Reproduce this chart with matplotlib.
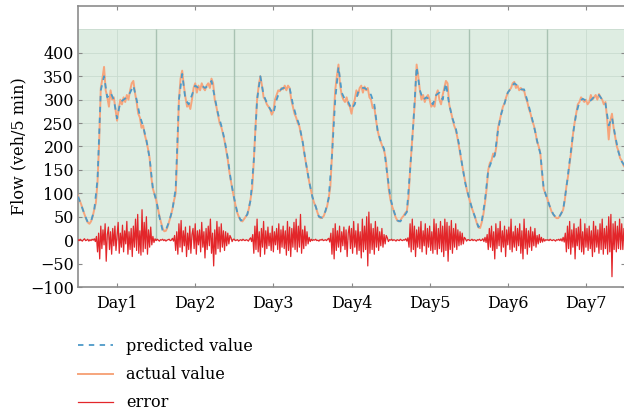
import numpy as np
import matplotlib
matplotlib.use('Agg')
import matplotlib.pyplot as plt

# --- Data ---
day_labels = ['Day1', 'Day2', 'Day3', 'Day4', 'Day5', 'Day6', 'Day7']

# predicted flow, hourly (veh/5 min)
pred_day1 = [93, 75, 55, 38, 40, 65, 130, 320, 350, 305, 315, 300, 260, 295, 300, 305, 315, 330, 300, 265, 243, 214, 175, 110]
pred_day2 = [86, 50, 20, 22, 40, 65, 110, 300, 355, 300, 290, 310, 330, 325, 330, 325, 330, 340, 305, 270, 245, 215, 175, 125]
pred_day3 = [88, 57, 42, 45, 55, 85, 170, 300, 350, 310, 293, 280, 270, 300, 320, 325, 325, 325, 290, 265, 245, 210, 165, 125]
pred_day4 = [92, 72, 50, 48, 62, 90, 180, 300, 370, 315, 300, 295, 280, 290, 315, 325, 325, 320, 310, 290, 235, 210, 195, 140]
pred_day5 = [88, 62, 42, 40, 50, 60, 150, 250, 370, 320, 300, 305, 300, 290, 310, 315, 300, 335, 290, 260, 240, 205, 160, 120]
pred_day6 = [93, 68, 48, 28, 40, 85, 150, 168, 182, 235, 270, 292, 315, 325, 335, 330, 322, 322, 298, 272, 245, 212, 185, 112]
pred_day7 = [90, 70, 55, 47, 52, 65, 112, 168, 225, 270, 295, 302, 298, 295, 302, 310, 310, 300, 292, 245, 262, 222, 188, 168]
pred_end = [158]

# actual flow, every 30 min
act_day1 = [95, 85, 76, 65, 55, 45, 38, 35, 40, 50, 66, 80, 125, 210, 325, 345, 370, 320, 305, 285,
            320, 300, 305, 280, 255, 280, 300, 290, 305, 295, 310, 300, 320, 335, 340, 315, 295, 270, 262, 240,
            245, 225, 212, 195, 175, 135, 110, 98]
act_day2 = [86, 70, 52, 38, 25, 19, 20, 28, 40, 52, 66, 85, 100, 190, 300, 345, 362, 330, 305, 285,
            290, 280, 300, 325, 335, 315, 330, 320, 335, 325, 320, 330, 335, 325, 345, 335, 300, 285, 268, 250,
            242, 228, 212, 192, 172, 145, 125, 105]
act_day3 = [88, 70, 57, 48, 42, 40, 45, 50, 55, 68, 88, 110, 170, 240, 300, 330, 350, 330, 305, 300,
            290, 285, 280, 268, 275, 300, 310, 320, 318, 325, 322, 330, 320, 330, 325, 300, 285, 270, 262, 250,
            243, 225, 210, 185, 165, 145, 125, 108]
act_day4 = [92, 80, 72, 60, 50, 47, 48, 52, 62, 72, 90, 115, 180, 260, 320, 350, 375, 330, 310, 300,
            295, 305, 290, 285, 270, 290, 300, 320, 310, 325, 330, 315, 328, 320, 325, 305, 300, 282, 285, 258,
            235, 220, 210, 200, 192, 175, 140, 105]
act_day5 = [85, 72, 62, 50, 43, 40, 42, 48, 52, 58, 62, 90, 150, 200, 250, 300, 375, 350, 320, 300,
            310, 295, 305, 310, 300, 285, 290, 285, 310, 320, 300, 290, 310, 325, 340, 335, 290, 275, 260, 245,
            236, 220, 200, 180, 160, 140, 122, 105]
act_day6 = [93, 80, 68, 58, 48, 36, 27, 26, 38, 55, 80, 110, 150, 165, 170, 185, 180, 200, 240, 255,
            270, 285, 292, 305, 315, 320, 325, 335, 338, 325, 330, 320, 325, 320, 320, 305, 295, 280, 270, 255,
            245, 230, 210, 200, 185, 145, 110, 100]
act_day7 = [92, 80, 70, 60, 55, 50, 47, 47, 52, 58, 65, 85, 115, 136, 165, 190, 225, 250, 270, 290,
            295, 305, 300, 295, 300, 290, 295, 310, 300, 305, 310, 300, 312, 305, 300, 290, 295, 260, 215, 255,
            270, 240, 220, 200, 190, 175, 170, 160]
act_end = [155]

# error, every 20 min
err_day1 = [1, -1, 2, 0, -2, 1, 3, -1, 0, 2, -2, 1, -1, 2, 0, 3, -3,
            8, -25, 15, -40, 30, -18, 22, -10, 35, -45, 12, 28, -20, 18, -30, 25, -12, 30, -22, 10,
            38, -28, 15, -15, 32, -25, 20, -8, 40, -30, 18, -20, 25, -35, 30, -15, 45, -22, 55, -28,
            20, -32, 65, -25, 38, -18, 50, -30, 22, -15, 28, -10, 8, -5, 3]
err_day2 = [-1, 2, 0, -2, 1, 0, 2, -1, 1, -2, 0, 1, 2, -1, 0, 4, -2,
            10, -22, 18, -30, 35, -15, 42, -25, 20, -12, 28, -35, 15, -20, 30, -28, 12, 25, -18, 35,
            -30, 20, -10, 22, -25, 38, -15, 18, -38, 25, -20, 30, -12, 45, -28, 15, -55, 22, -30, 40,
            -18, 28, -25, 35, -15, 20, -22, 18, -12, 15, -8, 10, 5, -3, 2]
err_day3 = [2, -1, 0, 1, -2, 0, 1, -1, 2, 0, -1, 1, 0, -2, 2, 5, -3,
            12, -28, 30, -20, 45, -25, 18, -35, 25, -15, 40, -30, 20, -18, 28, -12, 15, -22, 30, -25,
            18, -10, 25, -20, 35, -28, 22, -15, 30, -18, 20, -32, 40, -22, 28, -35, 25, -15, 38, -20,
            45, -25, 30, -15, 55, -28, 22, -18, 30, -12, 18, -8, 6, -3, 2]
err_day4 = [-1, 1, 0, 2, -1, 0, -2, 1, 0, 2, -1, 0, 1, -1, 2, 4, -4,
            15, -30, 25, -40, 35, -22, 20, -15, 30, -25, 18, -12, 28, -20, 22, -35, 15, 30, -18, 25,
            -28, 40, -15, 20, -30, 35, -22, 18, -38, 45, -25, 30, -20, 50, -55, 60, -28, 35, -20, 25,
            -30, 40, -15, 28, -22, 18, -12, 25, -15, 12, -8, 10, 5, -3, 1]
err_day5 = [0, 2, -1, 1, 0, -2, 1, 0, -1, 2, 0, -1, 1, 0, 3, -2, 5,
            -15, 35, -25, 45, -20, 30, -35, 22, -15, 28, -18, 40, -25, 20, -12, 35, -30, 25, -15, 30,
            -22, 18, -28, 45, -20, 35, -30, 25, -18, 40, -25, 30, -35, 45, -22, 38, -45, 30, -20, 42,
            -28, 25, -15, 35, -20, 22, -12, 18, -10, 15, -8, 6, 3, -2, 1]
err_day6 = [1, -1, 0, 2, -1, 1, 0, -2, 1, 0, 2, -1, 0, 3, -3, 6, -5,
            12, -20, 25, -15, 30, -22, 18, -40, 35, -18, 25, -12, 40, -25, 20, -15, 30, -35, 22, -10,
            28, -20, 45, -25, 18, -15, 30, -22, 25, -12, 35, -28, 20, -40, 45, -18, 25, -30, 20, -15,
            28, -22, 18, -12, 25, -15, 10, -8, 12, -5, 6, -4, 3, -2, 1]
err_day7 = [0, 1, -1, 2, 0, -1, 1, 0, -2, 1, 0, 2, -1, 3, -2, 6, -4,
            15, -25, 30, -18, 40, -30, 22, -15, 35, -40, 25, -12, 28, -20, 45, -25, 18, -30, 35, -15,
            25, -22, 30, -18, 20, -35, 40, -25, 30, -15, 22, -28, 35, -20, 45, -30, 25, -18, 30, -30,
            50, -25, 55, -78, 35, -20, 40, -25, 30, -18, 45, -20, 35, -20, 25]
err_end = [10]

predicted = np.array(pred_day1 + pred_day2 + pred_day3 + pred_day4 + pred_day5 + pred_day6 + pred_day7 + pred_end)
actual = np.array(act_day1 + act_day2 + act_day3 + act_day4 + act_day5 + act_day6 + act_day7 + act_end)
error = np.array(err_day1 + err_day2 + err_day3 + err_day4 + err_day5 + err_day6 + err_day7 + err_end)

# time axis in days
t_pred = np.arange(len(predicted)) / 24
t_act = np.arange(len(actual)) / 48
t_err = np.arange(len(error)) / 72

# --- Plot ---
plt.rcParams['font.family'] = ['DejaVu Serif']
plt.rcParams['font.size'] = 11.5

fig = plt.figure(figsize=(6.24, 4.15), dpi=100)
ax = fig.add_axes([78 / 624, 1 - 287 / 415, 547 / 624, 281 / 415])

green = '#deede2'
ax.axhspan(0, 450, color=green, zorder=0, lw=0)
ax.vlines(np.arange(7) + 0.5, 0, 450, color='#c9dccf', lw=0.6, zorder=1)
ax.hlines(np.arange(50, 451, 50), 0, 7, color='#c9dccf', lw=0.6, zorder=1)
ax.vlines(np.arange(1, 7), 0, 450, color='#a8c2b2', lw=1.0, zorder=1)

ax.plot(t_err, error, color='#e3262a', lw=0.9, zorder=3, label='error')
ax.plot(t_act, actual, color='#f6a57c', lw=1.4, zorder=4, label='actual value')
ax.plot(t_pred, predicted, color='#4d9ac8', lw=1.3, ls=(0, (3, 3)), zorder=5, label='predicted value')

ax.set_xlim(0, 7)
ax.set_ylim(-100, 500)
ax.set_yticks(np.arange(-100, 401, 50))
ax.set_xticks(np.arange(7) + 0.5)
ax.set_xticklabels(day_labels)
ax.set_ylabel('Flow (veh/5 min)', labelpad=2)
ax.tick_params(direction='in', top=True, right=True, length=3, color='#888888')
ax.tick_params(axis='y', pad=3)
ax.tick_params(axis='x', pad=6)

for s in ax.spines.values():
    s.set_color('#8c8c8c')
    s.set_linewidth(1.2)

handles, labels = ax.get_legend_handles_labels()
order = [2, 1, 0]
fig.legend([handles[i] for i in order], [labels[i] for i in order],
           loc='upper left', bbox_to_anchor=(78 / 624, 1 - 338 / 415),
           frameon=False, borderpad=0, borderaxespad=0,
           handlelength=2.2, handletextpad=0.8, labelspacing=0.7)

fig.savefig('out.png', dpi=100)
